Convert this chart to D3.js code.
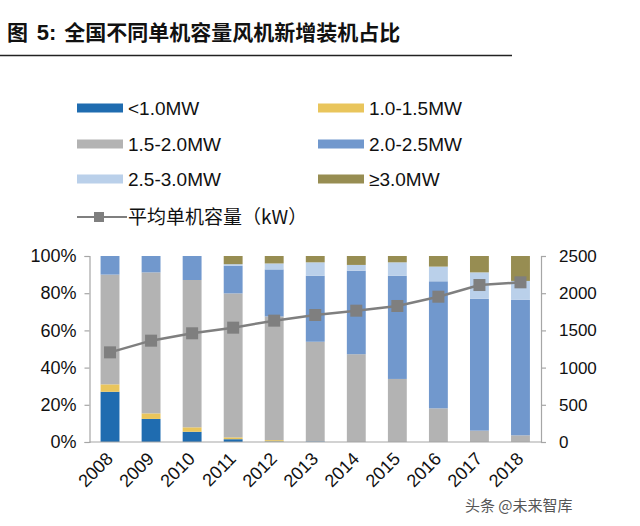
<!DOCTYPE html>
<html><head><meta charset="utf-8">
<script src="https://cdn.jsdelivr.net/npm/d3@7"></script>
<style>body{margin:0;background:#fff;} svg{display:block;}</style>
</head><body>
<svg id="c" width="640" height="526"></svg>
<script>
const years = ["2008","2009","2010","2011","2012","2013","2014","2015","2016","2017","2018"];
const seriesNames = ["<1.0MW","1.0-1.5MW","1.5-2.0MW","2.0-2.5MW","2.5-3.0MW","≥3.0MW"];
const sLt1   = [27.0,12.4,5.5,1.5,0.3,0.3,0,0,0,0,0];
const s1to15 = [4.0,3.0,2.4,1.0,0.7,0,0,0,0,0,0];
const s15to2 = [59.0,75.8,79.2,77.4,66.5,53.6,47.2,33.9,18.1,6.1,3.6];
const s2to25 = [10.0,8.8,12.9,14.8,25.3,35.5,44.9,55.5,68.3,70.9,72.8];
const s25to3 = [0,0,0,0.9,3.2,7.2,3.1,7.2,7.9,14.2,10.2];
const sGe3   = [0,0,0,4.4,4.0,3.4,4.8,3.4,5.7,8.8,13.4];
const avgCap = [1205,1362,1461,1537,1631,1707,1765,1828,1953,2110,2146];
const leftTicks = [0,0.2,0.4,0.6,0.8,1.0];
const rightTicks = [0,500,1000,1500,2000,2500];
const lineName = "平均单机容量（kW）";
const colors = ["#1f6cb0","#e9c55c","#b3b3b3","#7198cd","#bad0ea","#978d52"];

const svg = d3.select("#c");
const serif = "'Liberation Sans', Arial, sans-serif";
const cjk = "'Noto Sans CJK SC', sans-serif";

// Title
const t = svg.append("text").attr("x",7).attr("y",40).attr("fill","#111").attr("font-size",21).attr("font-family",cjk).attr("font-weight",700);
t.append("tspan").text("图 ");
t.append("tspan").attr("font-family",serif).attr("font-weight",700).attr("font-size",22).attr("dx",4).text("5:");
t.append("tspan").attr("dx",8).text("全国不同单机容量风机新增装机占比");
svg.append("line").attr("x1",0).attr("x2",512).attr("y1",55.5).attr("y2",55.5).attr("stroke","#222").attr("stroke-width",1.5);

// Scales
const x = d3.scaleBand().domain(years).range([89.5,541]).paddingInner(0.54).paddingOuter(0.27);
const yL = d3.scaleLinear().domain([0,1]).range([442,256]);
const yR = d3.scaleLinear().domain([0,2500]).range([442,256]);

// stacked bars
const table = years.map((yr,i)=>{
  const o = {year:yr};
  [sLt1,s1to15,s15to2,s2to25,s25to3,sGe3].forEach((s,k)=>o[seriesNames[k]]=s[i]/100);
  return o;
});
const stack = d3.stack().keys(seriesNames)(table);
svg.append("g").selectAll("g").data(stack).join("g").attr("fill",(d,i)=>colors[i])
  .selectAll("rect").data(d=>d).join("rect")
  .attr("x",d=>x(d.data.year)).attr("width",x.bandwidth())
  .attr("y",d=>yL(d[1])).attr("height",d=>Math.max(0,yL(d[0])-yL(d[1])));

// axes
const axCol = "#a6a6a6";
const gL = svg.append("g").attr("transform","translate(89.5,0)")
  .call(d3.axisLeft(yL).tickValues(leftTicks).tickFormat(d3.format(".0%")).tickSize(5).tickPadding(8));
const gR = svg.append("g").attr("transform","translate(541,0)")
  .call(d3.axisRight(yR).tickValues(rightTicks).tickFormat(d3.format("d")).tickSize(5).tickPadding(13));
[gL,gR].forEach(g=>{
  g.selectAll("path,line").attr("stroke",axCol).attr("stroke-width",1.2);
  g.selectAll("text").attr("fill","#111").attr("font-family",serif).attr("font-size",18);
});
gR.selectAll("text").attr("font-size",17);
svg.append("line").attr("x1",89.5).attr("x2",541).attr("y1",442).attr("y2",442).attr("stroke",axCol).attr("stroke-width",1.2);

// x labels
svg.append("g").selectAll("text").data(years).join("text")
  .attr("transform",d=>`translate(${x(d)+x.bandwidth()/2+4},460) rotate(-45)`)
  .attr("text-anchor","end").attr("font-family",serif).attr("font-size",18).attr("fill","#111").text(d=>d);

// line
const lineGen = d3.line().x((d,i)=>x(years[i])+x.bandwidth()/2).y(d=>yR(d));
svg.append("path").datum(avgCap).attr("d",lineGen).attr("fill","none").attr("stroke","#7f7f7f").attr("stroke-width",2.5);
svg.append("g").selectAll("rect").data(avgCap).join("rect")
  .attr("x",(d,i)=>x(years[i])+x.bandwidth()/2-6).attr("y",d=>yR(d)-6)
  .attr("width",12).attr("height",12).attr("fill","#7f7f7f");

// legend
const legPos = [[77,108],[318,108],[77,144],[318,144],[77,179],[318,179]];
const lg = svg.append("g");
seriesNames.forEach((n,i)=>{
  const [lx,ly]=legPos[i];
  lg.append("rect").attr("x",lx).attr("y",ly-4.5).attr("width",46).attr("height",9).attr("fill",colors[i]);
  lg.append("text").attr("x",lx+51).attr("y",ly+7).attr("font-family",serif).attr("font-size",19).attr("fill","#111").text(n);
});
lg.append("line").attr("x1",77).attr("x2",127).attr("y1",217).attr("y2",217).attr("stroke","#7f7f7f").attr("stroke-width",2);
lg.append("rect").attr("x",94).attr("y",212).attr("width",10).attr("height",10).attr("fill","#7f7f7f");
lg.append("text").attr("x",128).attr("y",224).attr("font-family",cjk).attr("font-size",19).attr("fill","#111").text(lineName);

// watermark
svg.append("text").attr("x",465).attr("y",511).attr("font-family",cjk).attr("font-size",15).attr("fill","#555").text("头条 @未来智库");
</script>
</body></html>
